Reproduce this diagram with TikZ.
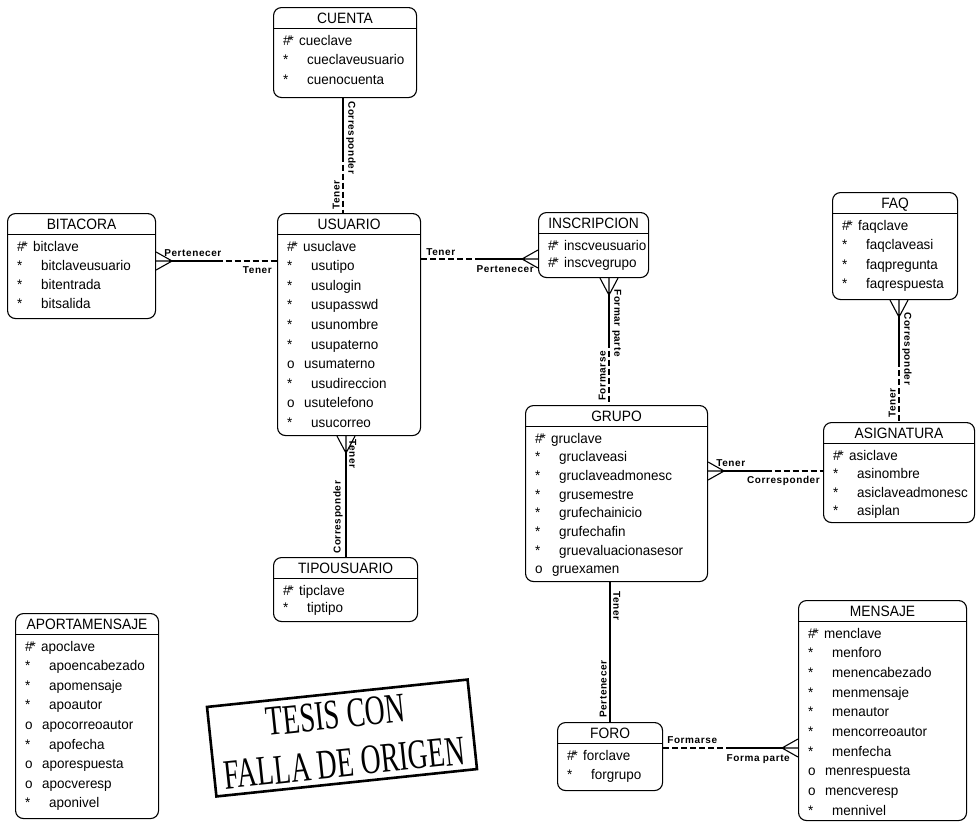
\documentclass[tikz,border=0pt]{standalone}
\usepackage{fontspec}
\setmainfont{Liberation Sans}
\newfontfamily\rowfam[FakeStretch=0.96]{Liberation Sans}
\newfontfamily\ttlfam[FakeStretch=0.92]{Liberation Sans}
\newfontfamily\labfam[LetterSpace=6]{Liberation Sans}
\newfontfamily\stampfam[FakeStretch=0.66]{Liberation Serif}
\usetikzlibrary{calc}

\newcommand\mkk{\#\kern-2pt*}
\newcommand\mks{*}
\newcommand\mko{o}
\def\offk{26}\def\offs{34}\def\offo{27}

\tikzset{
 ent/.style={draw, line width=1.1pt, rounded corners=8pt, inner sep=0pt},
 sepl/.style={line width=1pt},
 ttl/.style={font=\ttlfam\fontsize{15}{17}\selectfont, inner sep=0pt},
 rowt/.style={font=\rowfam\fontsize{14}{16}\selectfont, inner sep=0pt},
 rel/.style={line width=1.1pt},
 reld/.style={line width=1.1pt, dash pattern=on 6pt off 3pt},
 lab/.style={font=\labfam\bfseries\fontsize{10}{12}\selectfont, inner sep=0pt},
 stampbox/.style={draw, line width=2.6pt, minimum width=262pt, minimum height=90pt, inner sep=0pt},
 stamptxt/.style={inner sep=0pt, font=\stampfam\fontsize{42}{44}\selectfont},
}

\newcommand\mkentity[8]{%
 \node[ent, minimum width=#4pt, minimum height=#5pt, anchor=north west] (#1) at (#2,#3) {};
 \draw[sepl] ([yshift=-21pt]#1.north west) -- ([yshift=-21pt]#1.north east);
 \node[ttl, anchor=base] (#1-t) at ([yshift=-16pt]#1.north) {#7};
 \foreach \m/\t [count=\i] in {#8} {
   \pgfmathsetmacro\yy{-38-(\i-1)*#6}
   \edef\xo{\csname off\m\endcsname}
   \node[rowt, anchor=base west] (#1-m\i) at ([xshift=10pt, yshift=\yy pt]#1.north west) {\csname mk\m\endcsname};
   \node[rowt, anchor=base west] (#1-r\i) at ([xshift=\xo pt, yshift=\yy pt]#1.north west) {\t};
 }
}
\newcommand\crow[2]{\draw[rel] ($(#1)!9pt!90:(#2)$) -- (#2) -- ($(#1)!9pt!-90:(#2)$) (#1) -- (#2);}

\begin{document}
\begin{tikzpicture}[x=1pt, y=-1pt]
\useasboundingbox (0,0) rectangle (977,822);
\fill[white] (0,0) rectangle (977,822);

\mkentity{cuenta}{273}{7}{143}{90}{19.5}{CUENTA}{k/cueclave, s/cueclaveusuario, s/cuenocuenta}
\mkentity{bitacora}{7}{213}{148}{105}{19.3}{BITACORA}{k/bitclave, s/bitclaveusuario, s/bitentrada, s/bitsalida}
\mkentity{usuario}{277}{213}{143}{222}{19.6}{USUARIO}{k/usuclave, s/usutipo, s/usulogin, s/usupasswd, s/usunombre, s/usupaterno, o/usumaterno, s/usudireccion, o/usutelefono, s/usucorreo}
\mkentity{inscripcion}{538}{212}{110}{65}{17}{INSCRIPCION}{k/inscveusuario, k/inscvegrupo}
\mkentity{faq}{832}{192}{125}{107}{19.5}{FAQ}{k/faqclave, s/faqclaveasi, s/faqpregunta, s/faqrespuesta}
\mkentity{grupo}{525}{405}{182}{176}{18.7}{GRUPO}{k/gruclave, s/gruclaveasi, s/gruclaveadmonesc, s/grusemestre, s/grufechainicio, s/grufechafin, s/gruevaluacionasesor, o/gruexamen}
\mkentity{asignatura}{823}{422}{151}{100}{18.5}{ASIGNATURA}{k/asiclave, s/asinombre, s/asiclaveadmonesc, s/asiplan}
\mkentity{tipousuario}{273}{557}{144}{64}{17}{TIPOUSUARIO}{k/tipclave, s/tiptipo}
\mkentity{aportamensaje}{15}{613}{143}{205}{19.6}{APORTAMENSAJE}{k/apoclave, s/apoencabezado, s/apomensaje, s/apoautor, o/apocorreoautor, s/apofecha, o/aporespuesta, o/apocveresp, s/aponivel}
\mkentity{foro}{557}{722}{105}{68}{19.5}{FORO}{k/forclave, s/forgrupo}
\mkentity{mensaje}{798}{600}{168}{220}{19.7}{MENSAJE}{k/menclave, s/menforo, s/menencabezado, s/menmensaje, s/menautor, s/mencorreoautor, s/menfecha, o/menrespuesta, o/mencveresp, s/mennivel}

% CUENTA - USUARIO
\coordinate (cu-a) at ([xshift=70pt]cuenta.south west);
\coordinate (cu-b) at (cu-a |- usuario.north);
\coordinate (cu-m) at ($(cu-a)!0.5!(cu-b)$);
\draw[rel] (cu-a) -- (cu-m);
\draw[reld] (cu-m) -- (cu-b);
\node[lab, rotate=-90, anchor=south west] (cu-l1) at ([xshift=3pt, yshift=-3pt]cu-a) {Corresponder};
\node[lab, rotate=90, anchor=south west] (cu-l2) at ([xshift=-3pt, yshift=3pt]cu-b) {Tener};

% BITACORA - USUARIO
\coordinate (bu-a) at ([yshift=-48pt]bitacora.north east);
\coordinate (bu-b) at (bu-a -| usuario.west);
\coordinate (bu-t) at ([xshift=16pt]bu-a);
\coordinate (bu-m) at ($(bu-a)!0.5!(bu-b)$);
\crow{bu-a}{bu-t}
\draw[rel] (bu-t) -- (bu-m);
\draw[reld] (bu-m) -- (bu-b);
\node[lab, anchor=south west] (bu-l1) at ([xshift=8pt, yshift=4pt]bu-a) {Pertenecer};
\node[lab, anchor=north east] (bu-l2) at ([xshift=-5pt, yshift=-5pt]bu-b) {Tener};

% USUARIO - INSCRIPCION
\coordinate (ui-a) at ([yshift=-46pt]usuario.north east);
\coordinate (ui-b) at (ui-a -| inscripcion.west);
\coordinate (ui-t) at ([xshift=-16pt]ui-b);
\coordinate (ui-m) at ($(ui-a)!0.5!(ui-b)$);
\crow{ui-b}{ui-t}
\draw[reld] (ui-a) -- (ui-m);
\draw[rel] (ui-m) -- (ui-t);
\node[lab, anchor=south west] (ui-l1) at ([xshift=5pt, yshift=3pt]ui-a) {Tener};
\node[lab, anchor=north east] (ui-l2) at ([xshift=-4pt, yshift=-6pt]ui-b) {Pertenecer};

% INSCRIPCION - GRUPO
\coordinate (ig-a) at ([xshift=71pt]inscripcion.south west);
\coordinate (ig-b) at (ig-a |- grupo.north);
\coordinate (ig-t) at ([yshift=-17pt]ig-a);
\coordinate (ig-m) at ($(ig-a)!0.5!(ig-b)$);
\crow{ig-a}{ig-t}
\draw[rel] (ig-t) -- (ig-m);
\draw[reld] (ig-m) -- (ig-b);
\node[lab, rotate=-90, anchor=south west] (ig-l1) at ([xshift=3pt, yshift=-11pt]ig-a) {Formar parte};
\node[lab, rotate=90, anchor=south west] (ig-l2) at ([xshift=-3pt, yshift=4pt]ig-b) {Formarse};

% FAQ - ASIGNATURA
\coordinate (fa-a) at ([xshift=67pt]faq.south west);
\coordinate (fa-b) at (fa-a |- asignatura.north);
\coordinate (fa-t) at ([yshift=-17pt]fa-a);
\coordinate (fa-m) at ($(fa-a)!0.5!(fa-b)$);
\crow{fa-a}{fa-t}
\draw[rel] (fa-t) -- (fa-m);
\draw[reld] (fa-m) -- (fa-b);
\node[lab, rotate=-90, anchor=south west] (fa-l1) at ([xshift=3pt, yshift=-12pt]fa-a) {Corresponder};
\node[lab, rotate=90, anchor=south west] (fa-l2) at ([xshift=-3pt, yshift=4pt]fa-b) {Tener};

% GRUPO - ASIGNATURA
\coordinate (ga-a) at ([yshift=-66pt]grupo.north east);
\coordinate (ga-b) at (ga-a -| asignatura.west);
\coordinate (ga-t) at ([xshift=16pt]ga-a);
\coordinate (ga-m) at ($(ga-a)!0.5!(ga-b)$);
\crow{ga-a}{ga-t}
\draw[rel] (ga-t) -- (ga-m);
\draw[reld] (ga-m) -- (ga-b);
\node[lab, anchor=south west] (ga-l1) at ([xshift=8pt, yshift=4pt]ga-a) {Tener};
\node[lab, anchor=north east] (ga-l2) at ([xshift=-3pt, yshift=-5pt]ga-b) {Corresponder};

% GRUPO - FORO
\coordinate (gf-a) at ([xshift=85pt]grupo.south west);
\coordinate (gf-b) at (gf-a |- foro.north);
\draw[rel] (gf-a) -- (gf-b);
\node[lab, rotate=-90, anchor=south west] (gf-l1) at ([xshift=3pt, yshift=-9pt]gf-a) {Tener};
\node[lab, rotate=90, anchor=south west] (gf-l2) at ([xshift=-3pt, yshift=4pt]gf-b) {Pertenecer};

% FORO - MENSAJE
\coordinate (fm-a) at ([yshift=-26pt]foro.north east);
\coordinate (fm-b) at (fm-a -| mensaje.west);
\coordinate (fm-t) at ([xshift=-16pt]fm-b);
\coordinate (fm-m) at ($(fm-a)!0.5!(fm-b)$);
\crow{fm-b}{fm-t}
\draw[reld] (fm-a) -- (fm-m);
\draw[rel] (fm-m) -- (fm-t);
\node[lab, anchor=south west] (fm-l1) at ([xshift=4pt, yshift=4pt]fm-a) {Formarse};
\node[lab, anchor=north east] (fm-l2) at ([xshift=-8pt, yshift=-6pt]fm-b) {Forma parte};

% USUARIO - TIPOUSUARIO
\coordinate (ut-a) at ([xshift=69pt]usuario.south west);
\coordinate (ut-b) at (ut-a |- tipousuario.north);
\coordinate (ut-t) at ([yshift=-17pt]ut-a);
\crow{ut-a}{ut-t}
\draw[rel] (ut-t) -- (ut-b);
\node[lab, rotate=-90, anchor=south west] (ut-l1) at ([xshift=3pt, yshift=-3pt]ut-a) {Tener};
\node[lab, rotate=90, anchor=south west] (ut-l2) at ([xshift=-3pt, yshift=3pt]ut-b) {Corresponder};

% stamp
\node[stampbox, rotate=6] (stamp) at (342,738) {};
\node[stamptxt, rotate=6] (stamp-1) at ($(stamp.center)!0.5!(stamp.north)+(-4,0)$) {TESIS CON};
\node[stamptxt, rotate=6] (stamp-2) at ($(stamp.center)!0.5!(stamp.south)+(0,2)$) {FALLA DE ORIGEN};
\end{tikzpicture}
\end{document}
